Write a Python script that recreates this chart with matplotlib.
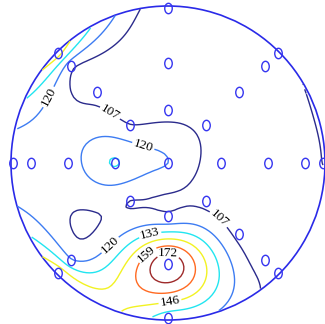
import numpy as np
import matplotlib
matplotlib.use("Agg")
import matplotlib.pyplot as plt
from matplotlib.path import Path
from matplotlib.transforms import Affine2D

plt.rcParams['font.family'] = ['Liberation Serif', 'DejaVu Serif']

# measurement sites on the wafer (mm from centre) and measured values
site_x = [0,
          0, 24, 34, 24, 0, -24, -34, -24,
          0, 45, 64, 45, 0, -64, -45,
          62, 87, 62, -62, -87, -62,
          0, 70, 99, 70, 0, -70, -99, -70]
site_y = [0,
          34, 24, 0, -24, -34, -24, 0, 24,
          64, 45, 0, -45, -64, 0, 45,
          62, 0, -62, -62, 0, 62,
          99, 70, 0, -70, -99, -70, 0, 70]
site_val = [120,
            103, 104, 100, 104, 110, 107, 134, 107.5,
            100, 98, 98, 103, 183, 115, 104,
            100, 99, 100, 122, 114, 112,
            96, 105, 107.5, 102, 125, 157, 109, 152]

levels = [107, 120, 133, 146, 159, 172]
level_colors = ['#2b2b8c', '#3d7cf2', '#22e5f0', '#f2f222', '#ff6a22', '#9e2a2a']
wafer_r = 100


def tps(r):
    return np.where(r > 0, r ** 2 * np.log(np.maximum(r, 1e-12)), 0.0)


# thin plate spline through the sites
sx = np.array(site_x, float)
sy = np.array(site_y, float)
sv = np.array(site_val, float)
n = len(sx)
K = tps(np.hypot(sx[:, None] - sx[None, :], sy[:, None] - sy[None, :]))
P = np.column_stack([np.ones(n), sx, sy])
A = np.zeros((n + 3, n + 3))
A[:n, :n] = K
A[:n, n:] = P
A[n:, :n] = P.T
coef = np.linalg.solve(A, np.concatenate([sv, np.zeros(3)]))

gx, gy = np.meshgrid(np.linspace(-wafer_r, wafer_r, 101), np.linspace(-wafer_r, wafer_r, 101))
G = tps(np.hypot(gx[..., None] - sx, gy[..., None] - sy))
gz = G @ coef[:n] + coef[n] + coef[n + 1] * gx + coef[n + 2] * gy
gz = np.ma.masked_where(gx ** 2 + gy ** 2 > wafer_r ** 2, gz)

fig = plt.figure(figsize=(3.25, 3.24), dpi=100)
ax = fig.add_axes([0, 0, 1, 1])

cs = ax.contour(gx, gy, gz, levels=levels, colors=level_colors, linewidths=1.0)

# label positions along the lines
label_pos = [(-78, 43), (-40, 27), (-16, 10), (-39, -50), (-11.5, -45),
             (-14.6, -56.7), (0, -60), (1.3, -88.5), (31.8, -36.3)]
ax.clabel(cs, fmt='%d', colors='k', fontsize=9.5, inline=True,
          inline_spacing=2, manual=label_pos)

# wafer outline
circ = plt.Circle((0, 0), wafer_r, fill=False, ec='#2a2ae8', lw=1.2)
ax.add_patch(circ)

# site markers, drawn as a tall "o"
oval = Affine2D().scale(0.72, 1.0).transform_path(Path.unit_circle())
ax.plot(site_x, site_y, ls='none', marker=oval, ms=7.5, mfc='none', mec='#3535f0', mew=1.0)

ax.set_xlim(-107, 100)
ax.set_ylim(-102.5, 103.8)
ax.set_aspect('equal')
ax.axis('off')

fig.savefig('out.png', dpi=100)
